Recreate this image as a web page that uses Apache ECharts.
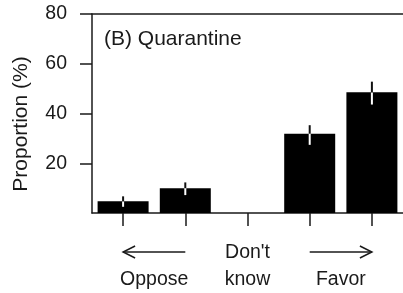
<!DOCTYPE html>
<html>
<head>
<meta charset="utf-8">
<script src="https://cdn.jsdelivr.net/npm/echarts@6/dist/echarts.min.js"></script>
<style>
  html, body { margin: 0; padding: 0; background: #fff; }
  #chart { width: 403px; height: 293px; }
</style>
</head>
<body>
<div id="chart"></div>
<script>
// Response categories (left to right)
const categories = ["Strongly oppose", "Oppose", "Don't know", "Favor", "Strongly favor"];
// Proportion (%) and error bar ends
const proportion = [4.7, 10.0, 0, 31.9, 48.5];
const ciLow = [2.5, 7.2, 0, 27.4, 43.6];
const ciHigh = [6.7, 12.3, 0, 35.3, 52.8];
const yTicks = [20, 40, 60, 80];
// group labels under the axis: [from index, to index, text, arrow direction]
const groupLabels = [[0, 1, "Oppose", "left"], [3, 4, "Favor", "right"]];
const panelTitle = "(B) Quarantine";
const yName = "Proportion (%)";

const FONT = "Liberation Sans, Arial, sans-serif";
const INK = "#1a1a1a";

const chart = echarts.init(document.getElementById("chart"));

function renderErrorBar(params, api) {
  const idx = api.value(0);
  const lo = api.coord([idx, api.value(1)]);
  const mid = api.coord([idx, api.value(2)]);
  const hi = api.coord([idx, api.value(3)]);
  return {
    type: "group",
    children: [
      { type: "line", shape: { x1: mid[0], y1: lo[1], x2: mid[0], y2: mid[1] },
        style: { stroke: "#ffffff", lineWidth: 2 } },
      { type: "line", shape: { x1: mid[0], y1: mid[1], x2: mid[0], y2: hi[1] },
        style: { stroke: "#111", lineWidth: 2 } }
    ]
  };
}

const option = {
  animation: false,
  title: {
    text: panelTitle,
    left: 104,
    top: 29,
    padding: 0,
    textStyle: { fontFamily: FONT, fontSize: 21, fontWeight: "normal", color: INK }
  },
  grid: { left: 92, top: 14, right: 0, bottom: 77 },
  xAxis: [
    {
      type: "category",
      data: categories,
      axisLine: { lineStyle: { color: INK, width: 1.5 } },
      axisTick: { show: true, interval: 0, alignWithLabel: true, length: 13, lineStyle: { color: INK, width: 1.5 } },
      axisLabel: {
        interval: 0,
        margin: 26,
        fontFamily: FONT, fontSize: 19.5, color: INK, lineHeight: 27,
        formatter: (v, i) => (i === 2 ? "Don't\nknow" : "")
      }
    },
    {
      type: "category",
      position: "top",
      data: categories,
      axisLine: { show: true, lineStyle: { color: INK, width: 1.5 } },
      axisTick: { show: false },
      axisLabel: { show: false }
    }
  ],
  yAxis: {
    type: "value",
    min: 0,
    max: 80,
    interval: 20,
    axisLine: { show: true, lineStyle: { color: INK, width: 1.5 } },
    axisTick: { show: true, length: 12, customValues: yTicks, lineStyle: { color: INK, width: 1.5 } },
    axisLabel: { customValues: yTicks, margin: 25, fontFamily: FONT, fontSize: 19.5, color: INK },
    splitLine: { show: false }
  },
  series: [
    {
      type: "bar",
      data: proportion,
      barWidth: 51,
      itemStyle: { color: "#000" }
    },
    {
      type: "custom",
      renderItem: renderErrorBar,
      data: categories.map((c, i) => [i, ciLow[i], proportion[i], ciHigh[i]]),
      z: 10
    }
  ]
};

chart.setOption(option);

// arrows and group labels below the category axis, y-axis title
const arrowY = 252;
const textY = 280;
const graphics = [{
  type: "text",
  x: 21,
  y: 124,
  rotation: Math.PI / 2,
  style: {
    text: yName, fontFamily: FONT, fontSize: 21, fill: INK,
    align: "center", verticalAlign: "middle"
  }
}];
groupLabels.forEach(([a, b, text, dir]) => {
  const xa = chart.convertToPixel({ xAxisIndex: 0 }, categories[a]);
  const xb = chart.convertToPixel({ xAxisIndex: 0 }, categories[b]);
  const tip = dir === "left" ? xa : xb;
  const back = dir === "left" ? 12 : -12;
  graphics.push({
    type: "line",
    shape: { x1: xa, y1: arrowY, x2: xb, y2: arrowY },
    style: { stroke: INK, lineWidth: 1.5 }
  });
  graphics.push({
    type: "polyline",
    shape: { points: [[tip + back, arrowY - 6], [tip, arrowY], [tip + back, arrowY + 6]] },
    style: { stroke: INK, lineWidth: 1.5, fill: null }
  });
  graphics.push({
    type: "text",
    x: (xa + xb) / 2,
    y: textY,
    style: {
      text: text,
      fontFamily: FONT,
      fontSize: 19.5,
      fill: INK,
      align: "center",
      verticalAlign: "middle"
    }
  });
});
chart.setOption({ graphic: graphics });

window.addEventListener("resize", () => chart.resize());
</script>
</body>
</html>
